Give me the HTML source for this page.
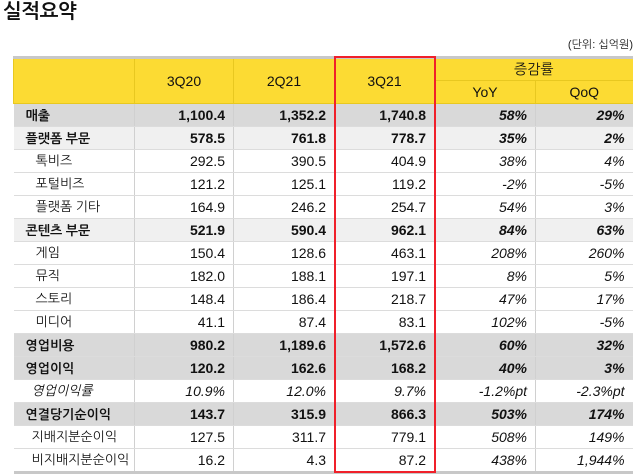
<!DOCTYPE html>
<html><head><meta charset="utf-8"><style>
body{margin:0;width:639px;height:474px;background:#fff;font-family:"Liberation Sans","NanumGothic","Noto Sans CJK KR",sans-serif;color:#111;position:relative;overflow:hidden}
.t{position:absolute;left:3px;top:1px;font-size:20px;font-weight:bold;letter-spacing:-0.5px}
.u{position:absolute;right:6px;top:38px;font-size:11px;color:#222}
table{position:absolute;left:13px;top:56px;border-collapse:collapse;table-layout:fixed;width:619px;font-size:14px}
td{height:22px;padding:0 8px;border-bottom:1px solid #dcdcdc;border-left:1px solid #d0d0d0;text-align:right;white-space:nowrap;overflow:hidden}
td:first-child{text-align:left;border-left:none}
tr.h td{background:#fcdb33;text-align:center;border-bottom:1px solid #e8c820;border-left:1px solid #e8c820}
tr.h1 td{border-top:3px solid #c8c8c8}
.d td{background:#d9d9d9;font-weight:bold}
.l td{background:#f0f0f0;font-weight:bold}
.d td:first-child,.l td:first-child{padding-left:12px;font-size:13px}
td.s{padding-left:22px;font-size:13px}
td.p{font-style:italic}
.d td.p,.l td.p{font-weight:bold}
tr:last-child td{border-bottom:3px solid #c8c8c8}
.r{position:absolute;left:334px;top:56px;width:98px;height:413px;border:2px solid #f0202a}
</style></head><body>
<div class="t">실적요약</div>
<div class="u">(단위: 십억원)</div>
<table>
<colgroup><col style="width:121px"><col style="width:99px"><col style="width:101px"><col style="width:100px"><col style="width:101px"><col style="width:97px"></colgroup>
<tr class="h h1"><td rowspan="2" style="height:44px"></td><td rowspan="2">3Q20</td><td rowspan="2">2Q21</td><td rowspan="2">3Q21</td><td colspan="2" style="height:21px">증감률</td></tr>
<tr class="h"><td style="height:21px">YoY</td><td>QoQ</td></tr>
<tr class="d"><td>매출</td><td>1,100.4</td><td>1,352.2</td><td>1,740.8</td><td class="p">58%</td><td class="p">29%</td></tr>
<tr class="l"><td>플랫폼 부문</td><td>578.5</td><td>761.8</td><td>778.7</td><td class="p">35%</td><td class="p">2%</td></tr>
<tr><td class="s">톡비즈</td><td>292.5</td><td>390.5</td><td>404.9</td><td class="p">38%</td><td class="p">4%</td></tr>
<tr><td class="s">포털비즈</td><td>121.2</td><td>125.1</td><td>119.2</td><td class="p">-2%</td><td class="p">-5%</td></tr>
<tr><td class="s">플랫폼 기타</td><td>164.9</td><td>246.2</td><td>254.7</td><td class="p">54%</td><td class="p">3%</td></tr>
<tr class="l"><td>콘텐츠 부문</td><td>521.9</td><td>590.4</td><td>962.1</td><td class="p">84%</td><td class="p">63%</td></tr>
<tr><td class="s">게임</td><td>150.4</td><td>128.6</td><td>463.1</td><td class="p">208%</td><td class="p">260%</td></tr>
<tr><td class="s">뮤직</td><td>182.0</td><td>188.1</td><td>197.1</td><td class="p">8%</td><td class="p">5%</td></tr>
<tr><td class="s">스토리</td><td>148.4</td><td>186.4</td><td>218.7</td><td class="p">47%</td><td class="p">17%</td></tr>
<tr><td class="s">미디어</td><td>41.1</td><td>87.4</td><td>83.1</td><td class="p">102%</td><td class="p">-5%</td></tr>
<tr class="d"><td>영업비용</td><td>980.2</td><td>1,189.6</td><td>1,572.6</td><td class="p">60%</td><td class="p">32%</td></tr>
<tr class="d"><td>영업이익</td><td>120.2</td><td>162.6</td><td>168.2</td><td class="p">40%</td><td class="p">3%</td></tr>
<tr><td class="s p" style="padding-left:18px">영업이익률</td><td class="p">10.9%</td><td class="p">12.0%</td><td class="p">9.7%</td><td class="p">-1.2%pt</td><td class="p">-2.3%pt</td></tr>
<tr class="d"><td>연결당기순이익</td><td>143.7</td><td>315.9</td><td>866.3</td><td class="p">503%</td><td class="p">174%</td></tr>
<tr><td class="s" style="padding-left:18px">지배지분순이익</td><td>127.5</td><td>311.7</td><td>779.1</td><td class="p">508%</td><td class="p">149%</td></tr>
<tr><td class="s" style="padding-left:18px">비지배지분순이익</td><td>16.2</td><td>4.3</td><td>87.2</td><td class="p">438%</td><td class="p">1,944%</td></tr>
</table>
<div class="r"></div>
</body></html>
